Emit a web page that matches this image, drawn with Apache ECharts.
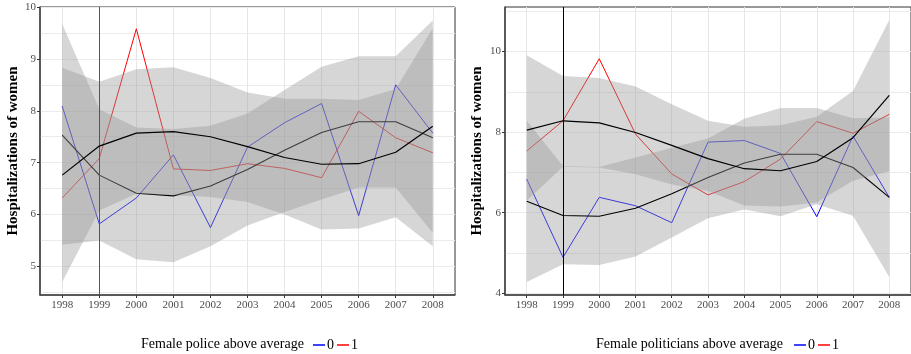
<!DOCTYPE html>
<html><head><meta charset="utf-8">
<script src="https://cdn.jsdelivr.net/npm/echarts@6/dist/echarts.min.js"></script>
<style>html,body{margin:0;padding:0;background:#fff}#c{width:911px;height:354px}</style>
</head><body><div id="c"></div>
<script>
// ---------- data ----------
const years = [1998, 1999, 2000, 2001, 2002, 2003, 2004, 2005, 2006, 2007, 2008];
const yearTicks = [1998, 1999, 2000, 2001, 2002, 2003, 2004, 2005, 2006, 2007, 2008];

// Left panel: Female police above average
const policeTicks = [5, 6, 7, 8, 9, 10];
const policeGridVals = [4.5, 5, 5.5, 6, 6.5, 7, 7.5, 8, 8.5, 9, 9.5, 10];
const police0 = [8.09, 5.82, 6.32, 7.15, 5.75, 7.30, 7.77, 8.14, 5.98, 8.50, 7.57];
const police1 = [6.32, 7.08, 9.58, 6.88, 6.85, 6.98, 6.89, 6.71, 7.99, 7.48, 7.19];
const policeFitA = [6.76, 7.32, 7.57, 7.60, 7.50, 7.31, 7.10, 6.97, 6.98, 7.20, 7.70];
const policeFitB = [7.53, 6.76, 6.41, 6.36, 6.55, 6.87, 7.24, 7.58, 7.79, 7.79, 7.48];
const policeBandALow  = [4.70, 6.08, 6.40, 6.37, 6.34, 6.24, 6.00, 5.71, 5.73, 5.95, 5.39];
const policeBandAHigh = [9.67, 8.03, 7.68, 7.65, 7.71, 7.95, 8.40, 8.85, 9.05, 9.05, 9.74];
const policeBandBLow  = [5.42, 5.50, 5.14, 5.08, 5.39, 5.79, 6.05, 6.29, 6.52, 6.52, 5.65];
const policeBandBHigh = [8.83, 8.56, 8.80, 8.84, 8.63, 8.35, 8.23, 8.23, 8.21, 8.42, 9.59];

// Right panel: Female politicians above average
const politicsTicks = [4, 6, 8, 10];
const politicsGridVals = [4, 5, 6, 7, 8, 9, 10, 11];
const politics0 = [6.83, 4.89, 6.38, 6.17, 5.75, 7.75, 7.79, 7.47, 5.90, 7.90, 6.38];
const politics1 = [7.53, 8.28, 9.82, 7.95, 6.96, 6.44, 6.77, 7.33, 8.26, 7.97, 8.44];
const politicsFitA = [8.05, 8.28, 8.23, 7.99, 7.67, 7.34, 7.09, 7.04, 7.27, 7.86, 8.91];
const politicsFitB = [6.28, 5.93, 5.91, 6.11, 6.47, 6.87, 7.23, 7.45, 7.45, 7.12, 6.38];
const politicsBandALow  = [6.30, 7.14, 7.12, 6.95, 6.70, 6.54, 6.18, 6.15, 6.25, 6.79, 7.03];
const politicsBandAHigh = [8.28, 7.16, 7.13, 7.37, 7.61, 7.84, 8.33, 8.60, 8.60, 8.34, 8.36];
const politicsBandBLow  = [4.28, 4.72, 4.70, 4.91, 5.38, 5.86, 6.08, 5.91, 6.21, 5.92, 4.40];
const politicsBandBHigh = [9.91, 9.39, 9.34, 9.13, 8.69, 8.28, 8.13, 8.17, 8.38, 9.02, 10.78];

const markYear = 1999;

// ---------- helpers ----------
const SERIF = '"Liberation Serif", "DejaVu Serif", serif';
const pairs = arr => years.map((y, i) => [y, arr[i]]);

function band(name, gi, low, high, z) {
  return {
    name: name, type: 'custom', xAxisIndex: gi, yAxisIndex: gi * 2, z: z, silent: true, clip: true,
    data: years.map((y, i) => [y, low[i], high[i]]),
    encode: { x: 0, y: [1, 2] },
    renderItem: function (params, api) {
      if (params.dataIndex !== 0) return null;
      const pts = [];
      for (let i = 0; i < years.length; i++) pts.push(api.coord([years[i], high[i]]));
      for (let i = years.length - 1; i >= 0; i--) pts.push(api.coord([years[i], low[i]]));
      return { type: 'polygon', shape: { points: pts }, style: { fill: 'rgba(153,153,153,0.4)', stroke: null } };
    }
  };
}
function line(name, gi, vals, color, width, z, extra) {
  return Object.assign({
    name: name, type: 'line', xAxisIndex: gi, yAxisIndex: gi * 2, z: z,
    data: pairs(vals), showSymbol: false, symbol: 'none', silent: true,
    lineStyle: { color: color, width: width }, itemStyle: { color: color }
  }, extra || {});
}
function vline(color) {
  return { markLine: { silent: true, symbol: ['none', 'none'], label: { show: false },
    lineStyle: { color: color, width: 1, type: 'solid' }, data: [{ xAxis: markYear }] } };
}
function xAx(gi) {
  return {
    type: 'value', gridIndex: gi, min: 1997.4, max: 2008.6,
    axisLine: { show: true, onZero: false, lineStyle: { color: '#444', width: 1.5 } },
    axisTick: { show: true, length: 3, customValues: yearTicks, lineStyle: { color: '#333' } },
    axisLabel: { customValues: yearTicks, formatter: v => String(v), color: '#4d4d4d',
      fontFamily: SERIF, fontSize: 11, margin: 5 },
    splitLine: { show: true, lineStyle: { color: '#e6e6e6', width: 1 } }
  };
}
function yGridAx(gi, min, max, vals) {
  return {
    type: 'value', gridIndex: gi, min: min, max: max,
    axisLine: { show: false }, axisLabel: { show: false },
    axisTick: { show: false, customValues: vals },
    splitLine: { show: true, lineStyle: { color: '#ebebeb', width: 1 } }
  };
}
function yLabAx(gi, min, max, ticks, gap) {
  return {
    type: 'value', gridIndex: gi, min: min, max: max, position: 'left',
    name: 'Hospitalizations of women', nameLocation: 'middle', nameGap: gap, nameMoveOverlap: false,
    nameTextStyle: { fontFamily: SERIF, fontWeight: 'bold', fontSize: 15, color: '#000' },
    axisLine: { show: true, onZero: false, lineStyle: { color: '#444', width: 1.5 } },
    axisTick: { show: true, length: 3, customValues: ticks, lineStyle: { color: '#333' } },
    axisLabel: { customValues: ticks, color: '#4d4d4d', fontFamily: SERIF, fontSize: 11, margin: 4 },
    splitLine: { show: false }
  };
}

const chart = echarts.init(document.getElementById('c'), null, { renderer: 'canvas' });
chart.setOption({
  animation: false,
  backgroundColor: '#fff',
  grid: [
    { left: 40, top: 7, width: 415, height: 288, show: true, borderColor: '#333', borderWidth: 1, backgroundColor: 'transparent' },
    { left: 505, top: 7, width: 414, height: 288, show: true, borderColor: '#333', borderWidth: 1, backgroundColor: 'transparent' }
  ],
  xAxis: [xAx(0), xAx(1)],
  yAxis: [
    yGridAx(0, 4.45, 10, policeGridVals), yLabAx(0, 4.45, 10, policeTicks, 19),
    yGridAx(1, 3.955, 11.105, politicsGridVals), yLabAx(1, 3.955, 11.105, politicsTicks, 20)
  ],
  title: [
    { text: 'Female police above average', left: 141, top: 337, padding: 0,
      textStyle: { fontFamily: SERIF, fontSize: 14, fontWeight: 'normal', color: '#000' } },
    { text: 'Female politicians above average', left: 596, top: 337, padding: 0,
      textStyle: { fontFamily: SERIF, fontSize: 14, fontWeight: 'normal', color: '#000' } }
  ],
  legend: [
    { data: ['police0', 'police1'], left: 313, top: 338, padding: 0, itemGap: 3,
      icon: 'rect', itemWidth: 12, itemHeight: 1.5, selectedMode: false,
      formatter: n => n.slice(-1),
      textStyle: { fontFamily: SERIF, fontSize: 14, color: '#000', padding: [0, 0, 0, -3] } },
    { data: ['politics0', 'politics1'], left: 794, top: 338, padding: 0, itemGap: 3,
      icon: 'rect', itemWidth: 12, itemHeight: 1.5, selectedMode: false,
      formatter: n => n.slice(-1),
      textStyle: { fontFamily: SERIF, fontSize: 14, color: '#000', padding: [0, 0, 0, -3] } }
  ],
  series: [
    line('police0', 0, police0, '#0000ff', 1, 1),
    line('police1', 0, police1, '#ff0000', 1, 1),
    band('policeBandB', 0, policeBandBLow, policeBandBHigh, 2),
    line('policeFitB', 0, policeFitB, '#000', 1.1, 3),
    band('policeBandA', 0, policeBandALow, policeBandAHigh, 4),
    line('policeFitA', 0, policeFitA, '#000', 1.2, 5, vline('#555')),

    line('politics0', 1, politics0, '#0000ff', 1, 1),
    line('politics1', 1, politics1, '#ff0000', 1, 1),
    band('politicsBandB', 1, politicsBandBLow, politicsBandBHigh, 2),
    line('politicsFitB', 1, politicsFitB, '#000', 1.1, 3),
    band('politicsBandA', 1, politicsBandALow, politicsBandAHigh, 4),
    line('politicsFitA', 1, politicsFitA, '#000', 1.2, 5, vline('#000'))
  ]
});
</script></body></html>
